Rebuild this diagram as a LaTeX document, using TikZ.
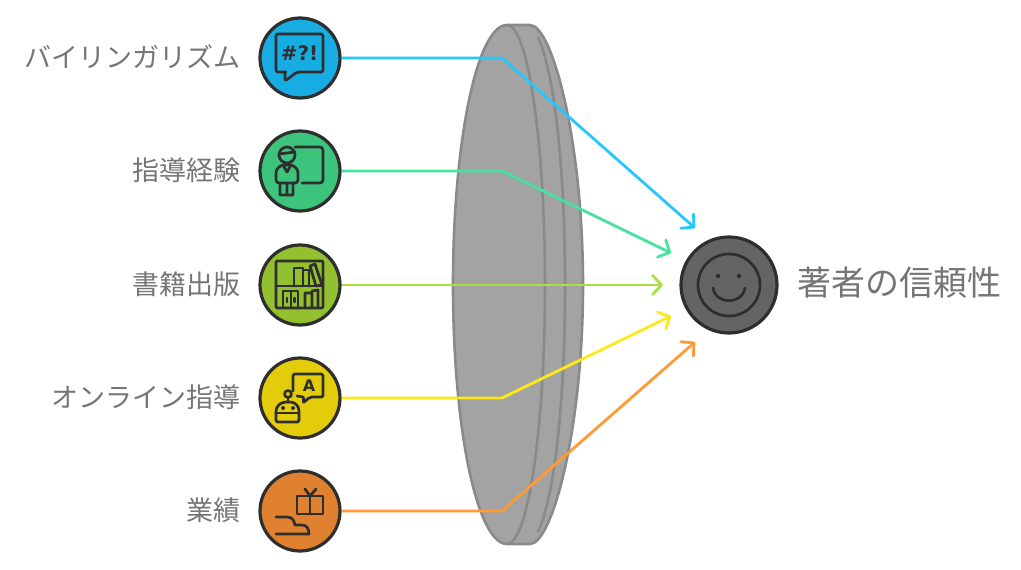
\documentclass[tikz,border=0pt]{standalone}
\usepackage{fontspec}
\setmainfont{Noto Sans CJK JP}
\newfontfamily\glyphfont{DejaVu Sans}
\usetikzlibrary{arrows.meta}
\definecolor{inkc}{HTML}{2E2E2E}
\definecolor{lensfill}{HTML}{A3A3A3}
\definecolor{lensedge}{HTML}{8A8A8A}
\definecolor{labelc}{HTML}{757575}
\definecolor{mainc}{HTML}{646464}
\tikzset{
 x=1pt,y=-1pt,
 disc/.style={circle,draw=inkc,line width=3.2pt,minimum size=80pt,inner sep=0pt},
 bigdisc/.style={circle,draw=inkc,line width=3.2pt,fill=mainc,minimum size=96pt,inner sep=0pt},
 lab/.style={anchor=east,text=labelc,font=\fontsize{27}{30}\selectfont,inner sep=0pt},
 lablarge/.style={anchor=west,text=labelc,font=\fontsize{34}{38}\selectfont,inner sep=0pt},
 link/.style={line width=2.8pt,line join=round},
 linkarrow/.style={link,-{Straight Barb[length=9pt,width=19pt,line width=2.8pt,round]}},
 ico/.style={draw=inkc,line width=2.7pt,line join=round,line cap=round},
 lens/.style={draw=lensedge,line width=2.6pt,fill=lensfill,line join=round},
 lensline/.style={draw=lensedge,line width=2.6pt},
 glyph/.style={text=inkc,font=\glyphfont\bfseries,inner sep=0pt}
}
\begin{document}
\begin{tikzpicture}
\useasboundingbox (0,0) rectangle (1021,570);
% lens
\path[lens] (507,25) -- (530,25) .. controls (552,25) and (583,140) .. (583,285)
  .. controls (583,430) and (552,544) .. (530,544) -- (507,544)
  .. controls (477,544) and (453,428) .. (453,285)
  .. controls (453,142) and (477,25) .. (507,25) -- cycle;
\path[lensline] (507,25) .. controls (528,25) and (545,142) .. (545,285)
  .. controls (545,428) and (528,544) .. (507,544);
\path[lensline] (538,37) .. controls (555,75) and (565,170) .. (565,285)
  .. controls (565,400) and (555,495) .. (538,532);
% nodes
\node[disc,fill={rgb,255:red,23;green,173;blue,226}] (n1) at (300,58) {};
\node[disc,fill={rgb,255:red,60;green,196;blue,124}] (n2) at (300,171) {};
\node[disc,fill={rgb,255:red,147;green,192;blue,47}] (n3) at (300,285) {};
\node[disc,fill={rgb,255:red,227;green,204;blue,9}] (n4) at (300,398) {};
\node[disc,fill={rgb,255:red,224;green,129;blue,47}] (n5) at (300,511) {};
\node[bigdisc] (c) at (729,285) {};
% labels
\node[lab] (l1) at (241,57) {バイリンガリズム};
\node[lab] (l2) at (241,170) {指導経験};
\node[lab] (l3) at (241,284) {書籍出版};
\node[lab] (l4) at (241,397) {オンライン指導};
\node[lab] (l5) at (241,510) {業績};
\node[lablarge] (lc) at (797,283) {著者の信頼性};
% connectors
\coordinate (b1) at (502,58); \coordinate (e1) at (695,228);
\coordinate (b2) at (502,171); \coordinate (e2) at (671,253);
\coordinate (e3) at (663,285);
\coordinate (b4) at (502,398); \coordinate (e4) at (671,316);
\coordinate (b5) at (502,511); \coordinate (e5) at (695,342);
\draw[linkarrow,color={rgb,255:red,38;green,198;blue,255}] (n1) -- (b1) -- (e1);
\draw[linkarrow,color={rgb,255:red,69;green,227;blue,155}] (n2) -- (b2) -- (e2);
\draw[linkarrow,color={rgb,255:red,167;green,224;blue,64}] (n3) -- (e3);
\draw[linkarrow,color={rgb,255:red,255;green,232;blue,26}] (n4) -- (b4) -- (e4);
\draw[linkarrow,color={rgb,255:red,255;green,154;blue,54}] (n5) -- (b5) -- (e5);
% icon 1: speech bubble
\draw[ico,rounded corners=2pt] (284,72) -- (276,72) -- (276,34) -- (323,34) -- (323,72) -- (297,72) -- (285,81) -- (285,72) -- cycle;
\node[glyph,font=\glyphfont\bfseries\fontsize{20}{20}\selectfont] (t1) at (299.5,53) {\#?!};
% icon 2: teacher
\draw[ico,rounded corners=3pt] (295,147) -- (323,147) -- (323,183) -- (302,183);
\draw[ico] (287,155) circle[radius=8];
\draw[ico] (279,154) -- (295,152);
\draw[ico,rounded corners=3pt] (276,183) -- (276,170) -- (281,165) -- (293,165) -- (298,170) -- (298,183) -- cycle;
\draw[ico] (280,183) -- (280,195) -- (293,195) -- (293,183) (287,183) -- (287,195) (283,165) -- (287,172) -- (291,165);
% icon 3: bookshelf
\draw[ico,rounded corners=1pt] (276,261) rectangle (323,308);
\draw[ico] (276,286) -- (323,286);
\draw[ico] (294,286) -- (294,268) -- (303,268) -- (303,286) (309,286) -- (309,270) -- (303,270);
\draw[ico] (310,266) -- (315,264) -- (322,285) -- (316,286) -- cycle;
\draw[ico] (283,308) -- (283,291) -- (298,291) -- (298,308) (291,291) -- (291,308) (287,298) -- (287,302) (294.5,298) -- (294.5,302);
\draw[ico] (305,308) -- (305,293) -- (312,293) -- (312,308) (312,291) -- (318,290) -- (318,308);
% icon 4: robot
\draw[ico,rounded corners=2pt] (293,391) -- (293,374) -- (323,374) -- (323,397) -- (310,397) -- (303,403) -- (304,397) -- (297,396);
\node[glyph,font=\glyphfont\bfseries\fontsize{16}{18}\selectfont] (t4) at (309,385.5) {A};
\draw[ico] (288,394) circle[radius=3.5];
\draw[ico] (288,397.5) -- (288,402);
\draw[ico,rounded corners=2pt] (276,413) .. controls (276,406) and (281,402) .. (288,402) .. controls (295,402) and (299,406) .. (299,413) -- (299,422) -- (276,422) -- cycle;
\draw[ico] (276,413) -- (299,413);
\fill[inkc] (283,408) circle[radius=2] (293,408) circle[radius=2];
% icon 5: gift and hand
\draw[ico] (297,496) rectangle (323,514);
\draw[ico] (310,496) -- (310,514);
\draw[ico] (305,489) -- (310,496) -- (316,489);
\draw[ico] (276,517) -- (287,517) .. controls (292,517) and (294,520) .. (295,525) -- (302,525) .. controls (307,525) and (309,529) .. (309,534) -- (276,534);
% centre smiley
\draw[ico,draw=inkc] (729,285) circle[radius=31];
\fill[inkc] (718,276) circle[radius=2.2] (739,276) circle[radius=2.2];
\draw[ico] (713,288) .. controls (716,305) and (742,305) .. (745,288);
\end{tikzpicture}
\end{document}
